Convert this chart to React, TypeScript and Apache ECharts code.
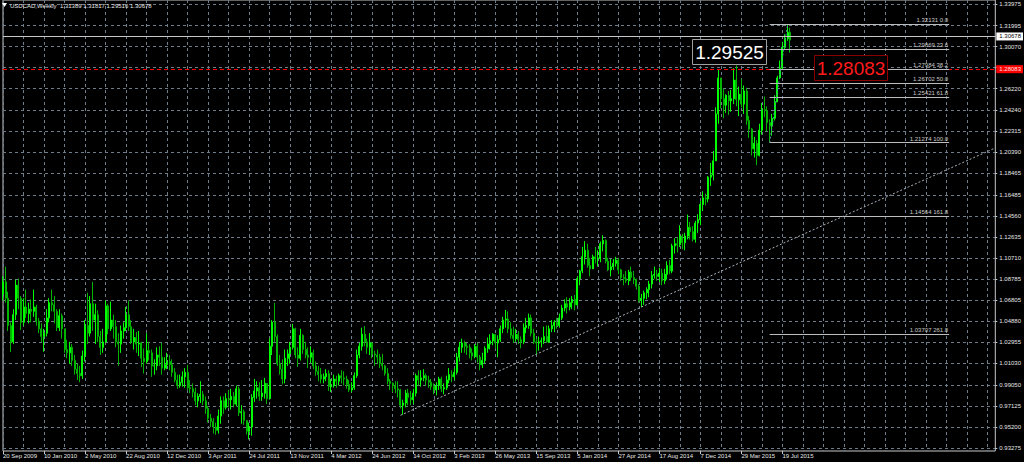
import React, { useEffect, useRef } from "react";
import * as echarts from "echarts";

// ---- data (USDCAD weekly) ----
const firstOpen = 1.074;
const closes = [
  1.0850, 1.0700, 1.0450, 1.0300, 1.0550, 1.0820, 1.0700, 1.0480, 1.0620, 1.0560,
  1.0600, 1.0580, 1.0620, 1.0490, 1.0420, 1.0350, 1.0380, 1.0520, 1.0660, 1.0640,
  1.0580, 1.0430, 1.0540, 1.0420, 1.0230, 1.0200, 1.0250, 1.0130, 1.0050, 1.0010,
  0.9990, 1.0170, 1.0450, 1.0380, 1.0650, 1.0500, 1.0550, 1.0350, 1.0250, 1.0300,
  1.0630, 1.0420, 1.0500, 1.0440, 1.0300, 1.0280, 1.0400, 1.0430, 1.0550, 1.0440,
  1.0300, 1.0340, 1.0280, 1.0290, 1.0150, 1.0120, 1.0220, 1.0200, 1.0080, 1.0080,
  1.0180, 1.0160, 1.0060, 1.0090, 1.0120, 1.0090, 1.0020, 0.9950, 0.9900, 0.9930,
  0.9980, 1.0020, 0.9880, 0.9870, 0.9840, 0.9760, 0.9800, 0.9820, 0.9760, 0.9690,
  0.9600, 0.9570, 0.9520, 0.9490, 0.9620, 0.9760, 0.9700, 0.9780, 0.9770, 0.9800,
  0.9730, 0.9870, 0.9650, 0.9660, 0.9580, 0.9480, 0.9520, 0.9790, 0.9850, 0.9880,
  0.9800, 0.9830, 0.9920, 0.9780, 1.0260, 1.0480, 1.0350, 1.0100, 1.0050, 0.9960,
  1.0150, 1.0190, 1.0250, 1.0420, 1.0180, 1.0150, 1.0360, 1.0230, 1.0180, 1.0160,
  1.0200, 1.0080, 1.0030, 1.0000, 0.9960, 0.9980, 1.0010, 0.9890, 0.9900, 0.9960,
  0.9940, 0.9990, 0.9970, 0.9960, 0.9910, 0.9860, 0.9880, 0.9990, 1.0180, 1.0260,
  1.0370, 1.0300, 1.0250, 1.0290, 1.0190, 1.0180, 1.0160, 1.0100, 1.0080, 1.0010,
  0.9940, 0.9920, 0.9900, 0.9870, 0.9860, 0.9720, 0.9740, 0.9830, 0.9790, 0.9770,
  0.9830, 0.9990, 0.9950, 0.9970, 0.9990, 0.9950, 0.9930, 0.9890, 0.9860, 0.9900,
  0.9960, 0.9870, 0.9880, 0.9950, 1.0000, 0.9980, 1.0020, 1.0160, 1.0250, 1.0290,
  1.0260, 1.0250, 1.0200, 1.0170, 1.0260, 1.0160, 1.0090, 1.0130, 1.0240, 1.0280,
  1.0310, 1.0370, 1.0290, 1.0320, 1.0420, 1.0500, 1.0510, 1.0420, 1.0360, 1.0330,
  1.0370, 1.0320, 1.0300, 1.0430, 1.0450, 1.0520, 1.0380, 1.0300, 1.0290, 1.0300,
  1.0310, 1.0350, 1.0300, 1.0420, 1.0450, 1.0480, 1.0450, 1.0520, 1.0610, 1.0650,
  1.0620, 1.0660, 1.0690, 1.0640, 1.0880, 1.0950, 1.1080, 1.1140, 1.1000, 1.0970,
  1.1080, 1.1060, 1.1070, 1.1200, 1.1230, 1.1040, 1.0960, 1.0990, 1.1020, 1.1050,
  1.0960, 1.0890, 1.0880, 1.0860, 1.0940, 1.0890, 1.0870, 1.0810, 1.0680, 1.0700,
  1.0750, 1.0780, 1.0830, 1.0910, 1.0920, 1.0900, 1.0930, 1.0860, 1.0920, 1.1000,
  1.0950, 1.1180, 1.1200, 1.1190, 1.1270, 1.1210, 1.1270, 1.1350, 1.1310, 1.1240,
  1.1390, 1.1420, 1.1560, 1.1620, 1.1610, 1.1810, 1.1830, 1.1960, 1.2390, 1.2720,
  1.2530, 1.2470, 1.2560, 1.2510, 1.2530, 1.2700, 1.2520, 1.2570, 1.2480, 1.2600,
  1.2330, 1.2250, 1.2070, 1.2120, 1.2010, 1.2240, 1.2430, 1.2420, 1.2310, 1.2280,
  1.2350, 1.2500, 1.2720, 1.2810, 1.3000, 1.3080, 1.31389, 1.30678,
];
const highs = [
  1.0900, 1.0990, 1.0760, 1.0480, 1.0600, 1.0870, 1.0880, 1.0720, 1.0700, 1.0780,
  1.0660, 1.0690, 1.0780, 1.0640, 1.0520, 1.0470, 1.0420, 1.0600, 1.0700, 1.0780,
  1.0720, 1.0600, 1.0600, 1.0560, 1.0420, 1.0320, 1.0300, 1.0280, 1.0180, 1.0100,
  1.0080, 1.0220, 1.0500, 1.0750, 1.0720, 1.0850, 1.0650, 1.0590, 1.0400, 1.0420,
  1.0680, 1.0650, 1.0670, 1.0550, 1.0500, 1.0380, 1.0450, 1.0480, 1.0620, 1.0680,
  1.0500, 1.0420, 1.0390, 1.0400, 1.0300, 1.0240, 1.0380, 1.0300, 1.0230, 1.0140,
  1.0250, 1.0260, 1.0290, 1.0160, 1.0200, 1.0180, 1.0140, 1.0060, 1.0000, 1.0000,
  1.0030, 1.0060, 1.0090, 0.9950, 0.9920, 0.9880, 0.9830, 0.9940, 0.9850, 0.9800,
  0.9710, 0.9640, 0.9600, 0.9560, 0.9680, 0.9800, 0.9800, 0.9830, 0.9860, 0.9870,
  0.9840, 0.9900, 0.9890, 0.9720, 0.9680, 0.9580, 0.9560, 0.9820, 0.9960, 0.9940,
  0.9930, 0.9950, 0.9970, 0.9920, 1.0330, 1.0500, 1.0658, 1.0370, 1.0180, 1.0140,
  1.0230, 1.0230, 1.0300, 1.0465, 1.0430, 1.0250, 1.0420, 1.0370, 1.0300, 1.0250,
  1.0260, 1.0230, 1.0120, 1.0080, 1.0060, 1.0010, 1.0050, 1.0040, 0.9960, 1.0000,
  0.9990, 1.0010, 1.0040, 1.0030, 0.9990, 0.9950, 0.9930, 1.0020, 1.0230, 1.0290,
  1.0430, 1.0445, 1.0330, 1.0380, 1.0300, 1.0220, 1.0230, 1.0190, 1.0190, 1.0090,
  1.0060, 0.9960, 0.9930, 0.9940, 0.9940, 0.9870, 0.9770, 0.9860, 0.9870, 0.9850,
  0.9870, 1.0010, 1.0040, 1.0040, 1.0050, 1.0010, 0.9990, 0.9960, 0.9920, 0.9930,
  0.9980, 0.9980, 0.9920, 0.9990, 1.0060, 1.0040, 1.0060, 1.0200, 1.0300, 1.0330,
  1.0310, 1.0290, 1.0280, 1.0240, 1.0280, 1.0290, 1.0180, 1.0200, 1.0260, 1.0340,
  1.0370, 1.0380, 1.0370, 1.0360, 1.0450, 1.0530, 1.0593, 1.0580, 1.0480, 1.0440,
  1.0420, 1.0400, 1.0350, 1.0470, 1.0520, 1.0560, 1.0550, 1.0420, 1.0330, 1.0350,
  1.0340, 1.0440, 1.0450, 1.0450, 1.0500, 1.0500, 1.0520, 1.0560, 1.0640, 1.0690,
  1.0710, 1.0700, 1.0720, 1.0730, 1.0900, 1.0960, 1.1170, 1.1224, 1.1200, 1.1070,
  1.1100, 1.1170, 1.1140, 1.1220, 1.1278, 1.1240, 1.1070, 1.1060, 1.1060, 1.1080,
  1.1070, 1.0970, 1.0920, 1.0950, 1.0960, 1.0990, 1.0950, 1.0880, 1.0830, 1.0740,
  1.0770, 1.0800, 1.0860, 1.0950, 1.0990, 1.0960, 1.0980, 1.0970, 1.0970, 1.1040,
  1.1050, 1.1200, 1.1250, 1.1260, 1.1370, 1.1290, 1.1300, 1.1467, 1.1400, 1.1360,
  1.1410, 1.1470, 1.1590, 1.1680, 1.1660, 1.1820, 1.1940, 1.2050, 1.2450, 1.2799,
  1.2720, 1.2620, 1.2570, 1.2600, 1.2610, 1.2810, 1.2835, 1.2640, 1.2710, 1.2650,
  1.2630, 1.2370, 1.2260, 1.2180, 1.2150, 1.2300, 1.2490, 1.2550, 1.2460, 1.2340,
  1.2390, 1.2560, 1.2740, 1.2880, 1.3050, 1.3120, 1.32131, 1.31817,
];
const lows = [
  1.0680, 1.0660, 1.0400, 1.0207, 1.0280, 1.0500, 1.0600, 1.0410, 1.0450, 1.0520,
  1.0470, 1.0480, 1.0530, 1.0450, 1.0380, 1.0300, 1.0210, 1.0350, 1.0480, 1.0580,
  1.0470, 1.0400, 1.0400, 1.0330, 1.0200, 1.0150, 1.0100, 1.0080, 1.0000, 0.9950,
  0.9930, 0.9960, 1.0120, 1.0280, 1.0350, 1.0400, 1.0280, 1.0300, 1.0180, 1.0200,
  1.0290, 1.0370, 1.0400, 1.0330, 1.0250, 1.0080, 1.0200, 1.0330, 1.0400, 1.0400,
  1.0280, 1.0230, 1.0200, 1.0170, 1.0070, 1.0010, 1.0100, 1.0130, 0.9980, 1.0000,
  1.0040, 1.0080, 1.0000, 1.0040, 1.0050, 1.0040, 0.9980, 0.9930, 0.9870, 0.9880,
  0.9890, 0.9880, 0.9860, 0.9830, 0.9790, 0.9720, 0.9700, 0.9740, 0.9720, 0.9640,
  0.9560, 0.9520, 0.9460, 0.9450, 0.9460, 0.9550, 0.9640, 0.9680, 0.9700, 0.9680,
  0.9700, 0.9710, 0.9620, 0.9550, 0.9540, 0.9450, 0.9406, 0.9440, 0.9750, 0.9780,
  0.9760, 0.9760, 0.9780, 0.9730, 0.9770, 1.0180, 1.0300, 1.0080, 1.0000, 0.9910,
  0.9920, 1.0080, 1.0100, 1.0230, 1.0150, 1.0070, 1.0130, 1.0190, 1.0150, 1.0060,
  1.0110, 1.0050, 0.9990, 0.9940, 0.9920, 0.9920, 0.9940, 0.9850, 0.9840, 0.9880,
  0.9880, 0.9900, 0.9920, 0.9900, 0.9870, 0.9840, 0.9838, 0.9860, 0.9970, 1.0150,
  1.0220, 1.0260, 1.0190, 1.0180, 1.0150, 1.0080, 1.0100, 1.0060, 1.0040, 0.9990,
  0.9910, 0.9860, 0.9840, 0.9830, 0.9790, 0.9690, 0.9633, 0.9700, 0.9720, 0.9720,
  0.9730, 0.9800, 0.9900, 0.9890, 0.9940, 0.9900, 0.9880, 0.9860, 0.9820, 0.9810,
  0.9860, 0.9840, 0.9820, 0.9860, 0.9920, 0.9930, 0.9950, 1.0000, 1.0120, 1.0200,
  1.0200, 1.0180, 1.0150, 1.0130, 1.0150, 1.0110, 1.0040, 1.0060, 1.0100, 1.0200,
  1.0230, 1.0270, 1.0240, 1.0160, 1.0300, 1.0380, 1.0430, 1.0380, 1.0330, 1.0290,
  1.0300, 1.0280, 1.0240, 1.0280, 1.0380, 1.0420, 1.0350, 1.0280, 1.0180, 1.0220,
  1.0250, 1.0280, 1.0290, 1.0290, 1.0390, 1.0390, 1.0420, 1.0430, 1.0500, 1.0580,
  1.0560, 1.0590, 1.0600, 1.0590, 1.0630, 1.0820, 1.0930, 1.1010, 1.0980, 1.0900,
  1.0970, 1.1020, 1.0990, 1.1030, 1.1130, 1.1020, 1.0950, 1.0900, 1.0960, 1.0990,
  1.0920, 1.0860, 1.0820, 1.0840, 1.0820, 1.0860, 1.0830, 1.0780, 1.0660, 1.0621,
  1.0640, 1.0690, 1.0710, 1.0790, 1.0880, 1.0860, 1.0850, 1.0820, 1.0830, 1.0870,
  1.0920, 1.0930, 1.1110, 1.1120, 1.1170, 1.1150, 1.1140, 1.1240, 1.1240, 1.1220,
  1.1210, 1.1300, 1.1370, 1.1500, 1.1550, 1.1580, 1.1730, 1.1780, 1.1960, 1.2300,
  1.2440, 1.2350, 1.2400, 1.2380, 1.2410, 1.2480, 1.2460, 1.2370, 1.2450, 1.2390,
  1.2290, 1.2170, 1.2010, 1.1990, 1.1920, 1.2000, 1.2200, 1.2360, 1.2230, 1.21274,
  1.2190, 1.2330, 1.2500, 1.2710, 1.2800, 1.2980, 1.3060, 1.29516,
];

const dateTickLabels = [
  "20 Sep 2009", "10 Jan 2010", "2 May 2010", "22 Aug 2010", "12 Dec 2010",
  "3 Apr 2011", "24 Jul 2011", "13 Nov 2011", "4 Mar 2012", "24 Jun 2012",
  "14 Oct 2012", "3 Feb 2013", "26 May 2013", "15 Sep 2013", "5 Jan 2014",
  "27 Apr 2014", "17 Aug 2014", "7 Dec 2014", "29 Mar 2015", "19 Jul 2015",
];
const barsPerDateLabel = 16;
const barsPerGridLine = 8;
const totalSlots = 388; // weekly slots incl. empty chart shift on the right

const priceGridTicks = [
  1.33975, 1.31995, 1.3007, 1.28145, 1.2622, 1.2424, 1.22315, 1.2039, 1.18465, 1.16485,
  1.1456, 1.12635, 1.1071, 1.08785, 1.06805, 1.0488, 1.02955, 1.0103, 0.9905, 0.97125,
  0.952, 0.93275,
];
const priceLabelTicks = priceGridTicks.filter((v) => v !== 1.28145);
const yMin = 0.92999;
const yMax = 1.34342;

const fibLevels: [number, string][] = [
  [1.32131, "0.0"], [1.29869, "23.6"], [1.27984, "38.2"], [1.26702, "50.0"],
  [1.25421, "61.8"], [1.21274, "100.0"], [1.14564, "161.8"], [1.03707, "261.8"],
];
const fibStartSlot = 299;
const fibEndSlot = 369;
const fibTopSlot = 306;
const trendStart: [number, number] = [155, 0.9627];
const trendEnd: [number, number] = [387, 1.2078];
const bidPrice = 1.30678;
const alertPrice = 1.28083;
const markerText = "1.29525";
const titleText = "USDCAD,Weekly  1.31389 1.31817 1.29516 1.30678";

const FONT = '"Liberation Sans", Arial, sans-serif';

export default function App() {
  const ref = useRef<HTMLDivElement>(null);
  useEffect(() => {
    document.body.style.margin = "0";
    document.body.style.background = "#000";
    if (!ref.current) return;
    const chart = echarts.init(ref.current, undefined, { renderer: "svg" });

    const categories = Array.from({ length: totalSlots }, (_, i) => "w" + i);
    const candles = closes.map((c, i) => [i === 0 ? firstOpen : closes[i - 1], c, lows[i], highs[i]]);

    const markData: any[] = [];
    markData.push({
      yAxis: bidPrice,
      lineStyle: { color: "#c8c8c8", type: "solid", width: 1 },
      label: {
        show: true, position: "end", formatter: bidPrice.toFixed(5), distance: 1,
        backgroundColor: "#ffffff", color: "#000000", padding: [1, 2, 1, 3],
        fontSize: 6, fontFamily: FONT,
      },
    });
    markData.push({
      yAxis: alertPrice,
      lineStyle: { color: "#ff0000", type: [4, 3], width: 1 },
      label: {
        show: true, position: "end", formatter: alertPrice.toFixed(5), distance: 1,
        backgroundColor: "#ff0000", color: "#ffe0e0", padding: [1, 2, 1, 3],
        fontSize: 6, fontFamily: FONT,
      },
    });
    fibLevels.forEach(([v, pct]) => {
      markData.push([
        {
          coord: [fibStartSlot, v],
          lineStyle: { color: "#bdbdbd", type: "solid", width: 1 },
          label: {
            show: true, position: "insideEndTop", formatter: `${v.toFixed(5)} ${pct}`,
            color: "#c8c8c8", fontSize: 6, fontFamily: FONT, distance: 1,
          },
        },
        { coord: [fibEndSlot, v] },
      ]);
    });
    markData.push([
      { coord: [fibStartSlot, fibLevels[5][0]], lineStyle: { color: "#4f8f9f", type: [2, 2], width: 1 }, label: { show: false } },
      { coord: [fibTopSlot, fibLevels[0][0]] },
    ]);
    markData.push([
      { coord: trendStart, lineStyle: { color: "#aab4bd", type: [2, 2], width: 1 }, label: { show: false } },
      { coord: trendEnd },
    ]);

    const option: any = {
      animation: false,
      backgroundColor: "#000000",
      grid: {
        left: 2, right: 28, top: 0, bottom: 11,
        show: true, borderColor: "#c8c8c8", borderWidth: 1, backgroundColor: "transparent",
      },
      xAxis: {
        type: "category",
        data: categories,
        boundaryGap: false,
        axisLine: { show: false },
        axisTick: {
          show: true, length: 3, lineStyle: { color: "#c8c8c8" },
          interval: (i: number) => i % barsPerDateLabel === 0 && i / barsPerDateLabel < dateTickLabels.length,
        },
        axisLabel: {
          show: true, color: "#e6e6e6", fontSize: 6, fontFamily: FONT, align: "left", margin: 2,
          interval: (i: number) => i % barsPerDateLabel === 0 && i / barsPerDateLabel < dateTickLabels.length,
          formatter: (_v: string, i: number) => dateTickLabels[i / barsPerDateLabel] ?? "",
        },
        splitLine: {
          show: true, interval: (i: number) => i % barsPerGridLine === 0,
          lineStyle: { color: "#6f7c8a", type: [3, 3], width: 1 },
        },
      },
      yAxis: {
        type: "value",
        position: "right",
        min: yMin,
        max: yMax,
        axisLine: { show: false },
        axisTick: { show: true, length: 2, lineStyle: { color: "#c8c8c8" }, customValues: priceGridTicks },
        axisLabel: {
          show: true, color: "#e6e6e6", fontSize: 6, fontFamily: FONT, margin: 4,
          customValues: priceLabelTicks, formatter: (v: number) => v.toFixed(5),
        },
        splitLine: { show: true, lineStyle: { color: "#6f7c8a", type: [3, 3], width: 1 } },
      },
      series: [
        {
          type: "candlestick",
          data: candles,
          barWidth: 1.5,
          silent: true,
          itemStyle: {
            color: "#aaffaa",
            color0: "#006a00",
            borderColor: "#00ff00",
            borderColor0: "#00b400",
            borderWidth: 1,
          },
          markLine: {
            silent: true,
            symbol: ["none", "none"],
            animation: false,
            data: markData,
          },
        },
      ],
      graphic: [
        { type: "polygon", z: 100, shape: { points: [[2, 3], [7, 3], [4.5, 7]] }, style: { fill: "#ffffff" } },
        {
          type: "text", z: 100, x: 10, y: 6,
          style: { text: titleText, fill: "#e6e6e6", fontSize: 6, fontFamily: FONT, verticalAlign: "middle" },
        },
        {
          type: "rect", z: 100, shape: { x: 692.5, y: 39.5, width: 74, height: 25 },
          style: { fill: "#000000", stroke: "#a0a0a0", lineWidth: 1 },
        },
        {
          type: "text", z: 101, x: 729.5, y: 52.5,
          style: { text: markerText, fill: "#ffffff", fontSize: 19, fontFamily: FONT, align: "center", verticalAlign: "middle" },
        },
        {
          type: "rect", z: 100, shape: { x: 814.5, y: 55.5, width: 73, height: 25 },
          style: { fill: "#000000", stroke: "#8b0000", lineWidth: 1 },
        },
        {
          type: "text", z: 101, x: 851, y: 68.5,
          style: { text: alertPrice.toFixed(5), fill: "#ff1a1a", fontSize: 19, fontFamily: FONT, align: "center", verticalAlign: "middle" },
        },
      ],
    };
    chart.setOption(option);
    return () => chart.dispose();
  }, []);
  return <div ref={ref} style={{ width: 1024, height: 462, background: "#000" }} />;
}
